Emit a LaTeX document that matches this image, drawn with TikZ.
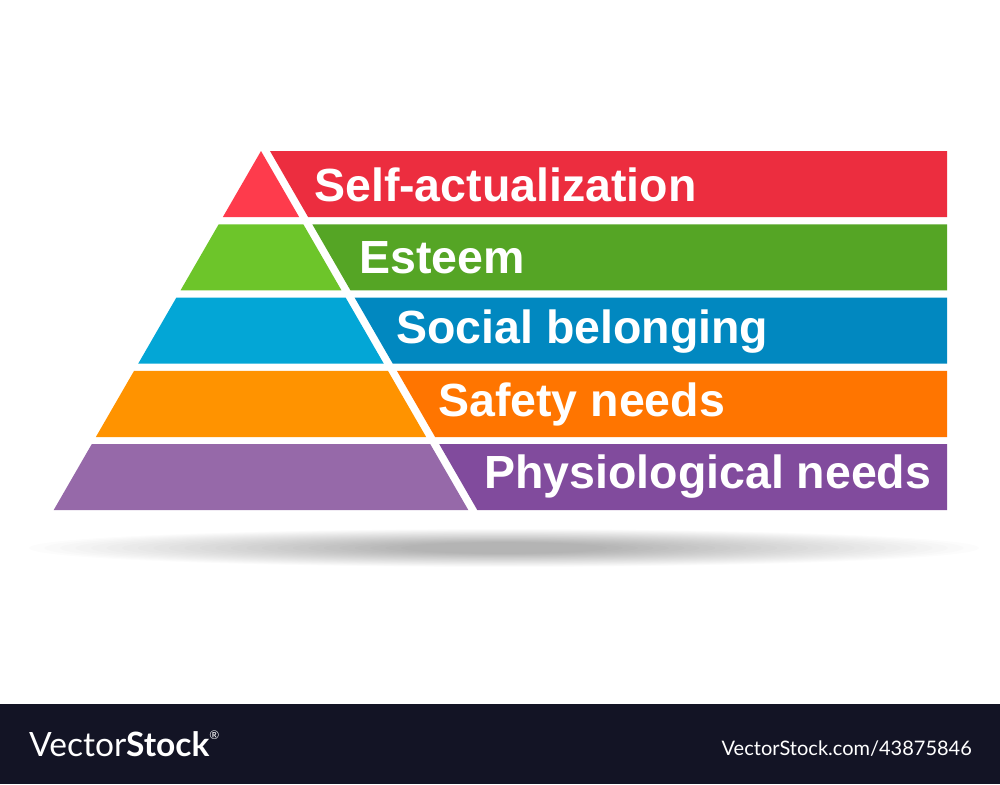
\documentclass[tikz,border=0pt]{standalone}
\usepackage{fontspec}
\newfontfamily\lbfont{Liberation Sans}
\newfontfamily\wmfont{Lato}
\definecolor{pyrA}{HTML}{FE3B4C}
\definecolor{barA}{HTML}{EC2D3F}
\definecolor{pyrB}{HTML}{6DC52A}
\definecolor{barB}{HTML}{55A525}
\definecolor{pyrC}{HTML}{03A6D6}
\definecolor{barC}{HTML}{0188C0}
\definecolor{pyrD}{HTML}{FF9300}
\definecolor{barD}{HTML}{FF7500}
\definecolor{pyrE}{HTML}{9669A9}
\definecolor{barE}{HTML}{814B9D}
\definecolor{band}{HTML}{131425}
\begin{document}
\begin{tikzpicture}[x=1pt,y=-1pt,
  lbl/.style={anchor=base west,inner sep=0pt,text=white,font=\lbfont\bfseries\fontsize{46.5}{50}\selectfont},
  shadowstep/.style={fill=black,fill opacity=0.011,draw=none}]
\useasboundingbox (0,0) rectangle (1000,784);
\fill[white] (0,0) rectangle (1000,784);
% shadow
\foreach \i in {0,...,24}
  \fill[shadowstep] (504,548) ellipse [x radius={475-15.5*\i}, y radius={19-0.55*\i}];
% layers
\foreach \t/\b/\pc/\bc/\txt/\tx/\ty/\nm in {
  151/217/pyrA/barA/Self-actualization/314/201.5/sa,
  224.3/290.3/pyrB/barB/Esteem/359/273.5/es,
  297.6/363.7/pyrC/barC/Social belonging/396/343.5/so,
  370.9/437/pyrD/barD/Safety needs/438/416.5/sf,
  444.2/510/pyrE/barE/Physiological needs/484/488.5/ph}
{
  \fill[\pc] ({261-0.5774*(\t-151)},\t) -- ({261+0.5774*(\t-151)},\t)
     -- ({261+0.5774*(\b-151)},\b) -- ({261-0.5774*(\b-151)},\b) -- cycle;
  \fill[\bc] ({270+0.5774*(\t-151)},\t) -- (947,\t) -- (947,\b)
     -- ({270+0.5774*(\b-151)},\b) -- cycle;
  \node[lbl] (\nm) at (\tx,\ty) {\txt};
}
% watermark band
\fill[band] (0,704) rectangle (1000,784);
\node[anchor=base west,inner sep=0pt,text=white,font=\wmfont\fontsize{33.5}{36}\selectfont] (wm) at (29,756)
  {Vector\textbf{Stock}\raisebox{0.95ex}{\fontsize{12}{13}\selectfont\textregistered}};
\node[anchor=base east,inner sep=0pt,text=white,font=\wmfont\fontsize{20}{22}\selectfont] (url) at (972,755.7)
  {VectorStock.com/43875846};
\end{tikzpicture}
\end{document}
